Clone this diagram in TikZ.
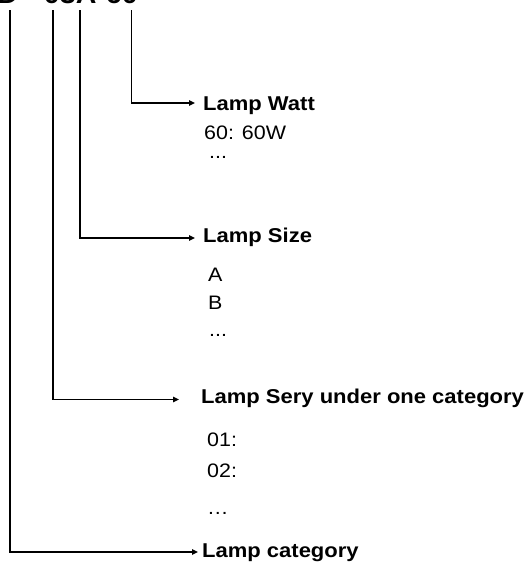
\documentclass[tikz,border=0pt]{standalone}
\usepackage{fontspec}
\setmainfont{Liberation Sans}[FakeStretch=1.1]
\usetikzlibrary{arrows.meta}
\begin{document}
\begin{tikzpicture}[x=1pt,y=1pt,
  lbl/.style={font=\fontsize{20}{24}\selectfont\bfseries, anchor=base west, inner sep=0},
  item/.style={font=\fontsize{19.5}{23}\selectfont, anchor=base west, inner sep=0},
  conn/.style={line width=1.7pt, -{Triangle[length=6pt,width=5.5pt]}},
  ]
\useasboundingbox (0,0) rectangle (528,-565);
\clip (0,0) rectangle (528,-565);
% title code, mostly cut off by the top edge
\node[font=\fontsize{26}{30}\selectfont\bfseries, anchor=base east, inner sep=0] (code) at (138,-3.5) {LED\hspace{26pt}03A-60};
% tops of the four leaders
\coordinate (cat)  at (10,-10);
\coordinate (sery) at (53,-10);
\coordinate (size) at (80,-10);
\coordinate (watt) at (131.5,-10);
% labels
\node[lbl] (lwatt) at (203,-110) {Lamp Watt};
\node[lbl] (lsize) at (203,-242) {Lamp Size};
\node[lbl] (lsery) at (201,-403) {Lamp Sery under one category};
\node[lbl] (lcat)  at (202,-557) {Lamp category};
% items
\node[item] (w1) at (204,-139) {60: 60W};
\node[item] (w2) at (209,-158) {...};
\node[item] (s1) at (208,-281) {A};
\node[item] (s2) at (208,-309) {B};
\node[item] (s3) at (209,-336) {...};
\node[item] (r1) at (207,-446) {01:};
\node[item] (r2) at (207,-477) {02:};
\node[item] (r3) at (207,-514) {…};
% arrow ends
\coordinate (wattend) at (195,-103);
\coordinate (sizeend) at (195,-238);
\coordinate (seryend) at (179,-399.5);
\coordinate (catend)  at (198,-552);
% connectors
\draw[conn] (watt) |- (wattend);
\draw[conn] (size) |- (sizeend);
\draw[conn] (sery) |- (seryend);
\draw[conn] (cat)  |- (catend);
\end{tikzpicture}
\end{document}
